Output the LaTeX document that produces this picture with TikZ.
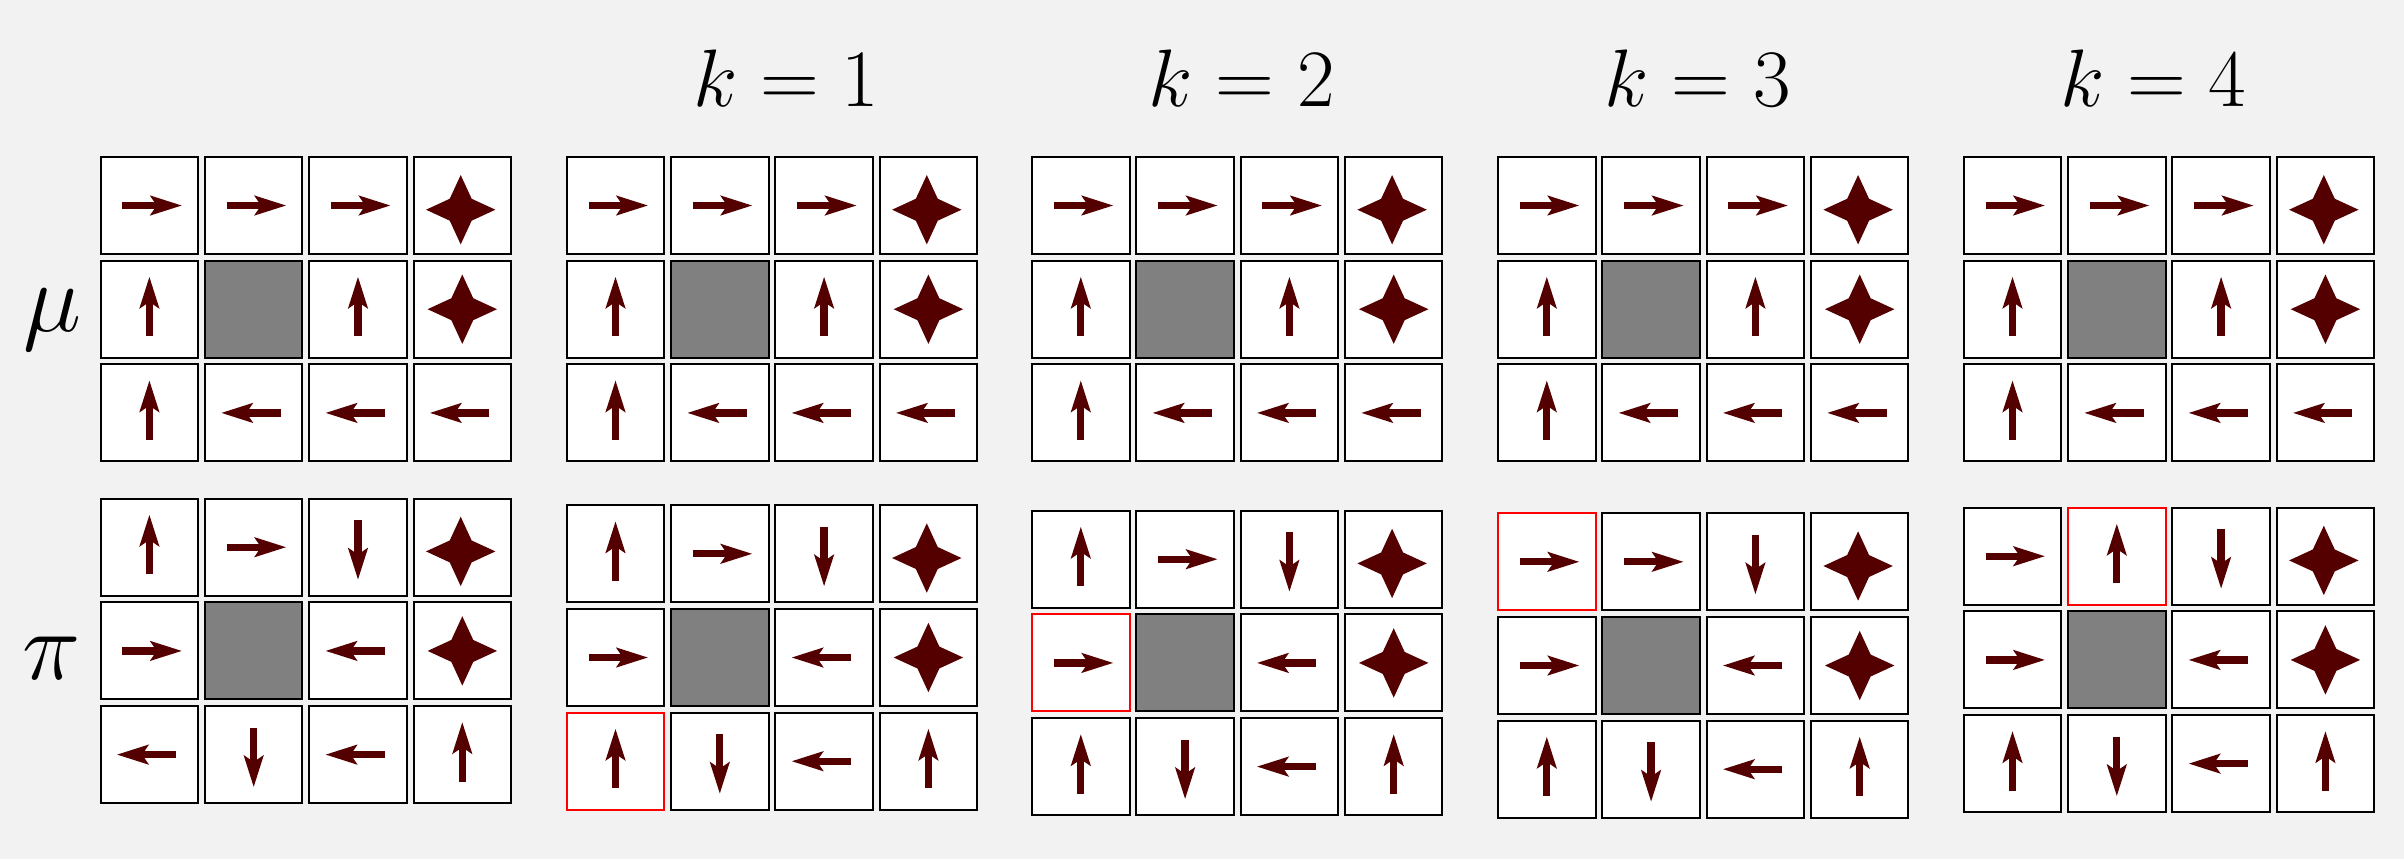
\documentclass[tikz,border=0pt]{standalone}
\usepackage{fix-cm}
\usepackage{amsmath}
\usepackage{tikz}
\usetikzlibrary{arrows.meta}

\definecolor{bg}{RGB}{242,242,242}
\definecolor{policy}{RGB}{85,0,0}
\definecolor{wallgray}{RGB}{128,128,128}

\begin{document}
\begin{tikzpicture}[
    cell/.style={draw=black, fill=white, line width=0.02cm, minimum width=0.975cm,
                 minimum height=0.97cm, inner sep=0pt, outer sep=0pt},
    pick/.style={draw=red, line width=0.02cm},
    policy arrow/.style={policy, line width=0.073cm,
                 -{Stealth[length=0.313cm, width=0.19cm, inset=0.06cm]}},
    title/.style={anchor=base, font=\fontsize{23.2}{28}\selectfont},
    rowlabel/.style={anchor=base, font=\fontsize{28}{34}\selectfont},
    pics/right/.style={code={\draw[policy arrow] (-0.27,0) -- (0.327,0);}},
    pics/left/.style={code={\draw[policy arrow] (0.27,0) -- (-0.327,0);}},
    pics/up/.style={code={\draw[policy arrow] (0,-0.27) -- (0,0.327);}},
    pics/down/.style={code={\draw[policy arrow] (0,0.27) -- (0,-0.327);}},
    pics/goal/.style={code={\fill[policy] (0:0.347) -- (45:0.155) -- (90:0.347) -- (135:0.155)
                 -- (180:0.347) -- (225:0.155) -- (270:0.347) -- (315:0.155) -- cycle;}},
    pics/topgoal/.style={code={\pic at (-0.016,-0.042) {goal};}},
    pics/wall/.style={code={\filldraw[fill=wallgray, draw=black, line width=0.02cm]
                 (-0.4875,-0.485) rectangle (0.4875,0.485);}}
]
    % Canvas
    \fill[bg] (0,0) rectangle (24.04,-8.59);
    \useasboundingbox (0,0) rectangle (24.04,-8.59);

    % Titles
    \node[title] (k1) at (7.86,-1.067) {$k=1$};
    \node[title] (k2) at (12.417,-1.067) {$k=2$};
    \node[title] (k3) at (16.977,-1.067) {$k=3$};
    \node[title] (k4) at (21.53,-1.067) {$k=4$};

    % Row labels
    \node[rowlabel] (mu) at (0.52,-3.317) {$\mu$};
    \node[rowlabel] (pi) at (0.52,-6.79) {$\pi$};

    % Top row of grids
    \foreach \g/\gx in {0/1.494, 1/6.155, 2/10.808, 3/15.468, 4/20.125}{
        \foreach \c [count=\n from 0] in {right,right,right,topgoal,up,wall,up,goal,up,left,left,left}{
            \pgfmathsetmacro\cx{\gx+1.043*mod(\n,4)}
            \pgfmathsetmacro\cy{-2.055-1.037*int(\n/4)}
            \node[cell] (m\g-\n) at (\cx,\cy) {};
            \pic at (m\g-\n) {\c};
        }
    }

    % Bottom row of grids
    \foreach \g/\gx/\gy/\cells in {
        0/1.494/-5.472/{up,right,down,topgoal,right,wall,left,goal,left,down,left,up},
        1/6.155/-5.538/{up,right,down,topgoal,right,wall,left,goal,up,down,left,up},
        2/10.808/-5.592/{up,right,down,topgoal,right,wall,left,goal,up,down,left,up},
        3/15.468/-5.618/{right,right,down,topgoal,right,wall,left,goal,up,down,left,up},
        4/20.125/-5.562/{right,up,down,topgoal,right,wall,left,goal,up,down,left,up}}{
        \foreach \c [count=\n from 0] in \cells {
            \pgfmathsetmacro\cx{\gx+1.043*mod(\n,4)}
            \pgfmathsetmacro\cy{\gy-1.037*int(\n/4)}
            \node[cell] (p\g-\n) at (\cx,\cy) {};
            \pic at (p\g-\n) {\c};
        }
    }

    % Updated states
    \draw[pick] (p1-8.north west) rectangle (p1-8.south east);
    \draw[pick] (p2-4.north west) rectangle (p2-4.south east);
    \draw[pick] (p3-0.north west) rectangle (p3-0.south east);
    \draw[pick] (p4-1.north west) rectangle (p4-1.south east);

\end{tikzpicture}
\end{document}
